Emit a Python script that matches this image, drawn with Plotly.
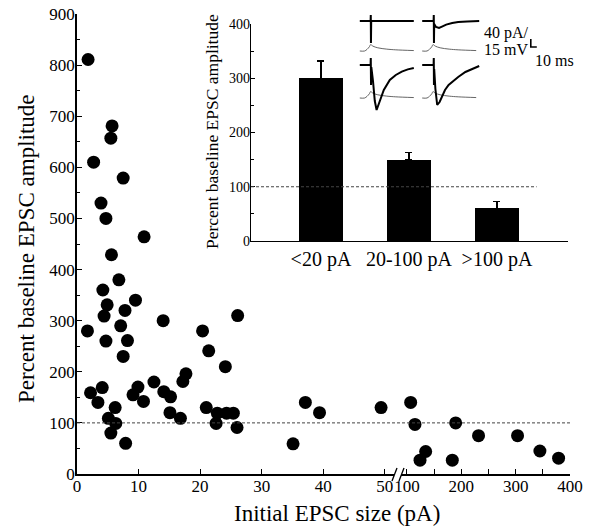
import plotly.graph_objects as go

# ---------------- data ----------------
# main scatter: initial EPSC size (pA) vs percent baseline EPSC amplitude
EPSC_SIZE = [1.8, 5.7, 5.5, 2.7, 7.5, 3.9, 4.7, 10.9, 5.6,
             6.8, 4.2, 9.5, 4.9, 7.8, 4.4, 14.0, 26.1, 1.7, 20.4, 7.1,
             8.2, 4.7, 21.4, 7.5, 24.1, 17.7, 17.2, 12.5, 2.2, 4.1,
             3.4, 9.9, 9.1, 10.8, 14.1, 15.2, 15.1, 16.8, 6.2, 5.1,
             6.3, 5.5, 7.9, 21.0, 22.8, 22.6, 24.3, 25.4, 26.0, 35.1,
             37.1, 39.4, 49.4,
             106.8, 114.7, 134.4, 124.0, 189.6, 183.4, 231.7, 303.5, 344.6, 379.0]
PCT_BASELINE = [811, 681, 657, 610, 579, 530, 500, 464, 429,
                380, 360, 340, 331, 320, 309, 300, 310, 280, 280, 290,
                261, 260, 241, 230, 210, 196, 181, 180, 159, 169,
                140, 170, 155, 142, 161, 151, 120, 109, 130, 109,
                99, 80, 60, 130, 119, 99, 119, 119, 91, 59,
                140, 120, 130,
                140, 97, 44, 27, 100, 27, 75, 75, 45, 31]

Y_TICKS = [0, 100, 200, 300, 400, 500, 600, 700, 800, 900]
X_TICKS_LOW = [0, 10, 20, 30, 40, 50]
X_TICKS_HIGH = [100, 200, 300, 400]
BREAK_LOW, BREAK_HIGH = 50, 100

# inset bar chart
CATEGORIES = ["<20 pA", "20-100 pA", ">100 pA"]
BAR_MEAN = [300, 150, 60]
BAR_SEM = [32, 13, 13]
INSET_Y_TICKS = [0, 100, 200, 300, 400]
BASELINE = 100

# example traces (time ms, current pA); [top-left, top-right, bottom-left, bottom-right]
TRACE_T = [
    [0, 18, 18.3, 18.6, 19, 90],
    [0, 19, 19.3, 19.6, 20, 23, 28, 33, 40, 50, 60, 75, 95],
    [0, 18, 18.3, 18.7, 19.2, 22, 25, 28, 31, 35, 40, 50, 60, 70, 80, 90],
    [0, 19, 19.3, 19.6, 20, 22, 25, 29, 33, 38, 44, 50, 60, 72, 84, 95],
]
TRACE_I = [
    [0, 0, 30, -110, 0, 0],
    [0, 0, 30, -110, -15, -30, -35, -28, -18, -10, -5, -2, 0],
    [0, 0, 35, -100, -10, -80, -180, -225, -200, -160, -125, -75, -50, -33, -22, -15],
    [0, 0, 35, -100, -20, -120, -200, -185, -160, -125, -100, -85, -60, -35, -18, -5],
]
VOLT_T = [0, 8, 12, 16, 18, 22, 30, 45, 60, 90]
VOLT_MV = [0, 0, 3, 8, 12, 9, 6, 3.5, 2.2, 0.8]
SCALE_MS, SCALE_PA, SCALE_MV = 10, 40, 15

# ---------------- layout helpers ----------------
W, H = 589, 527
L, R, T, B = 77, 570, 14, 474
def px(xp):
    return (xp - L) / (R - L)
def py(yp):
    return (B - yp) / (B - T)

FONT = "Liberation Serif, Times New Roman, serif"
INK = "black"

fig = go.Figure()

lo = [(x, y) for x, y in zip(EPSC_SIZE, PCT_BASELINE) if x <= BREAK_LOW]
hi = [(x, y) for x, y in zip(EPSC_SIZE, PCT_BASELINE) if x >= BREAK_HIGH]
mk = dict(color=INK, size=13)
fig.add_trace(go.Scatter(x=[p[0] for p in lo], y=[p[1] for p in lo], mode="markers",
                         marker=mk, xaxis="x", yaxis="y", cliponaxis=False, showlegend=False))
fig.add_trace(go.Scatter(x=[p[0] for p in hi], y=[p[1] for p in hi], mode="markers",
                         marker=mk, xaxis="x2", yaxis="y", cliponaxis=False, showlegend=False))

# inset bars
fig.add_trace(go.Bar(x=CATEGORIES, y=BAR_MEAN, width=0.5, marker=dict(color=INK, line=dict(width=0)),
                     error_y=dict(type="data", array=BAR_SEM, arrayminus=[0] * 3, symmetric=False,
                                  color=INK, thickness=1.3, width=3.5),
                     xaxis="x3", yaxis="y3", showlegend=False))

# example traces
COL_OFF = [8, 112, 8, 112]       # ms
ROW_OFF = [0, 0, -220, -220]     # pA
VOLT_OFF = [-150, -150, -385, -385]
k = SCALE_PA / SCALE_MV
for i in range(4):
    fig.add_trace(go.Scatter(x=[t + COL_OFF[i] for t in VOLT_T],
                             y=[VOLT_OFF[i] + v * k for v in VOLT_MV],
                             mode="lines", line=dict(color="#555", width=0.9, shape="spline"),
                             xaxis="x4", yaxis="y4", showlegend=False, hoverinfo="skip"))
    fig.add_trace(go.Scatter(x=[t + COL_OFF[i] for t in TRACE_T[i]],
                             y=[ROW_OFF[i] + v for v in TRACE_I[i]],
                             mode="lines", line=dict(color=INK, width=2),
                             xaxis="x4", yaxis="y4", showlegend=False, hoverinfo="skip"))
# scale bar
sb_t, sb_i = 293, -130
fig.add_trace(go.Scatter(x=[sb_t, sb_t, sb_t + SCALE_MS], y=[sb_i + SCALE_PA, sb_i, sb_i],
                         mode="lines", line=dict(color=INK, width=1.6),
                         xaxis="x4", yaxis="y4", showlegend=False, hoverinfo="skip"))

tickfont = dict(family=FONT, size=17, color=INK)
axis_common = dict(showline=True, linecolor=INK, linewidth=1.5, ticks="inside", ticklen=5,
                   tickcolor=INK, tickwidth=1.3, showgrid=False, zeroline=False,
                   tickfont=tickfont, automargin=False)

x1_end = px(394)
x2_start = px(401)
fig.update_layout(
    template="none",
    width=W, height=H,
    margin=dict(l=L, r=W - R, t=T, b=H - B, autoexpand=False),
    paper_bgcolor="white", plot_bgcolor="white",
    font=dict(family=FONT, color=INK),
    xaxis=dict(domain=[0, x1_end], range=[0, 51.5], tickvals=X_TICKS_LOW, anchor="y",
               ticklabelstandoff=-4, **axis_common),
    xaxis2=dict(domain=[x2_start, 1], range=[89, 400], tickvals=X_TICKS_HIGH, anchor="y",
                ticklabelstandoff=-4,
                minor=dict(dtick=50, ticks="inside", ticklen=5, tickcolor=INK), **axis_common),
    yaxis=dict(domain=[0, 1], range=[0, 900], tickvals=Y_TICKS, anchor="x", ticklabelstandoff=-3,
               minor=dict(dtick=50, ticks="inside", ticklen=3, tickcolor=INK), **axis_common),
    xaxis3=dict(domain=[px(251), px(568)], range=[-0.795, 2.807], anchor="y3", automargin=False,
                showline=True, linecolor=INK, linewidth=1.3, ticks="", showgrid=False, zeroline=False,
                tickfont=dict(family=FONT, size=20, color=INK)),
    yaxis3=dict(domain=[py(241), py(24)], range=[0, 400], tickvals=INSET_Y_TICKS, anchor="x3",
                automargin=False, ticklabelstandoff=-3,
                showline=True, linecolor=INK, linewidth=1.3, ticks="inside", ticklen=4, tickcolor=INK,
                showgrid=False, zeroline=False, tickfont=dict(family=FONT, size=14, color=INK),
                minor=dict(dtick=50, ticks="inside", ticklen=3, tickcolor=INK)),
    xaxis4=dict(domain=[px(355), 1], range=[0, (R - 355) / 0.6], visible=False, anchor="y4"),
    yaxis4=dict(domain=[py(115), 1], range=[35 - (115 - T) / 0.2, 35], visible=False, anchor="x4"),
    bargap=0,
)

# dashed 100% lines
fig.add_shape(type="line", xref="paper", yref="y", x0=0, x1=1, y0=BASELINE, y1=BASELINE,
              line=dict(color="#444", width=1, dash="3px,2px"))
fig.add_shape(type="line", xref="x3", yref="y3", x0=-0.795, x1=2.45, y0=BASELINE, y1=BASELINE,
              line=dict(color="#444", width=1, dash="3px,2px"))

# axis break marks
for xp in (392, 399):
    fig.add_shape(type="line", xref="paper", yref="paper",
                  x0=px(xp), x1=px(xp + 5), y0=py(481), y1=py(468),
                  line=dict(color=INK, width=1.3))

def note(text, xp, yp, size, angle=0, xanchor="center"):
    return dict(text=text, x=px(xp), y=py(yp), xref="paper", yref="paper",
                xanchor=xanchor, yanchor="middle", textangle=angle, showarrow=False,
                font=dict(family=FONT, size=size, color=INK))

ann = [
    note("Percent baseline EPSC amplitude", 26, 249, 23, angle=-90),
    note("Initial EPSC size (pA)", 337, 513, 23),
    note("Percent baseline EPSC amplitude", 212, 132, 17.5, angle=-90),
    note("40 pA/", 482, 33, 16, xanchor="left"),
    note("15 mV", 482, 49, 16, xanchor="left"),
    note("10 ms", 533, 61, 16, xanchor="left"),
]
fig.update_layout(annotations=ann)

fig.write_html("out.html", post_script="document.body.style.margin='0px';",
               config={"displayModeBar": False})
